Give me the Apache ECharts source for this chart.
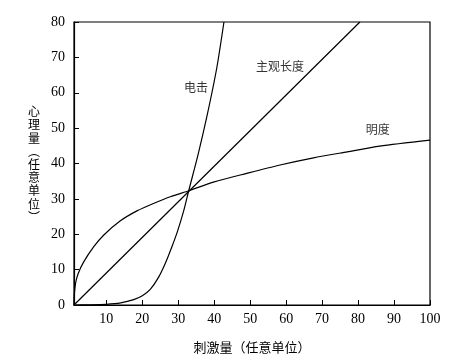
<!DOCTYPE html>
<html><head><meta charset="utf-8">
<script src="https://cdn.jsdelivr.net/npm/echarts@6/dist/echarts.min.js"></script>
<style>html,body{margin:0;padding:0;background:#fff}#c{width:459px;height:364px}</style>
</head><body><div id="c"></div>
<script>
const xTicks = [10,20,30,40,50,60,70,80,90,100];
const shock = [[1,0],[5,0.05],[10,0.2],[14,0.6],[17.6,1.5],[20,2.6],[22.2,4.4],[24.5,7.8],[26.4,11.8],[28.2,16.4],[29.8,20.9],[31.5,26.6],[32.9,32.3],[35.5,42.5],[38,53.5],[40.7,67],[42.7,80]];
const lengthLine = [[1,0],[80.5,80]];
const brightness = [[1,0],[1.1,3],[1.5,6.5],[2.2,9],[3.7,12.2],[6.5,16.5],[9.3,19.8],[13.9,23.8],[18.5,26.6],[23.1,28.7],[27.8,30.6],[32.9,32.3],[40,34.8],[49,37.2],[58,39.5],[67.6,41.6],[77,43.3],[86,44.9],[100,46.6]];
const labelNames = ['电击','主观长度','明度'];
const labelX = [34.9, 58.3, 85.5];
const labelY = [61.6, 67.5, 49.6];
const chart = echarts.init(document.getElementById('c'));
const lineStyle = {color:'#000', width:1.2};
const mk = (d) => ({type:'line', data:d, showSymbol:false, smooth:0.25, lineStyle, silent:true});
const serif = '"Liberation Serif", "Times New Roman", serif';
const cjk = '"Noto Sans CJK SC", sans-serif';
chart.setOption({
  animation:false,
  grid:{left:74, right:29, top:22, bottom:59, show:true, borderColor:'#000', borderWidth:1.2},
  xAxis:{type:'value', min:1, max:100,
    axisLine:{lineStyle:{color:'#000', width:1.2}},
    axisTick:{inside:true, length:5, customValues:xTicks, lineStyle:{color:'#000'}},
    axisLabel:{customValues:xTicks, color:'#000', fontFamily:serif, fontSize:14, margin:7},
    splitLine:{show:false},
    name:'刺激量（任意单位）', nameLocation:'middle', nameGap:36,
    nameTextStyle:{color:'#000', fontFamily:cjk, fontSize:13}
  },
  yAxis:{type:'value', min:0, max:80, interval:10,
    axisLine:{show:true, lineStyle:{color:'#000', width:1.2}},
    axisTick:{show:true, inside:true, length:5, lineStyle:{color:'#000'}},
    axisLabel:{color:'#000', fontFamily:serif, fontSize:14, margin:9},
    splitLine:{show:false}
  },
  graphic:[{type:'text', left:28, top:105, style:{text:'心\n理\n量\n︵\n任\n意\n单\n位\n︶', fill:'#000', fontFamily:cjk, fontSize:12, lineHeight:13.2, align:'left'}}],
  series:[
    mk(shock),
    Object.assign(mk(lengthLine), {smooth:false}),
    mk(brightness),
    {type:'scatter', silent:true, symbolSize:1, itemStyle:{color:'rgba(0,0,0,0)'},
     data:labelNames.map((n,i)=>({value:[labelX[i], labelY[i]], name:n})),
     label:{show:true, position:'inside', formatter:'{b}', color:'#000', fontFamily:cjk, fontSize:12}}
  ]
});
</script></body></html>
